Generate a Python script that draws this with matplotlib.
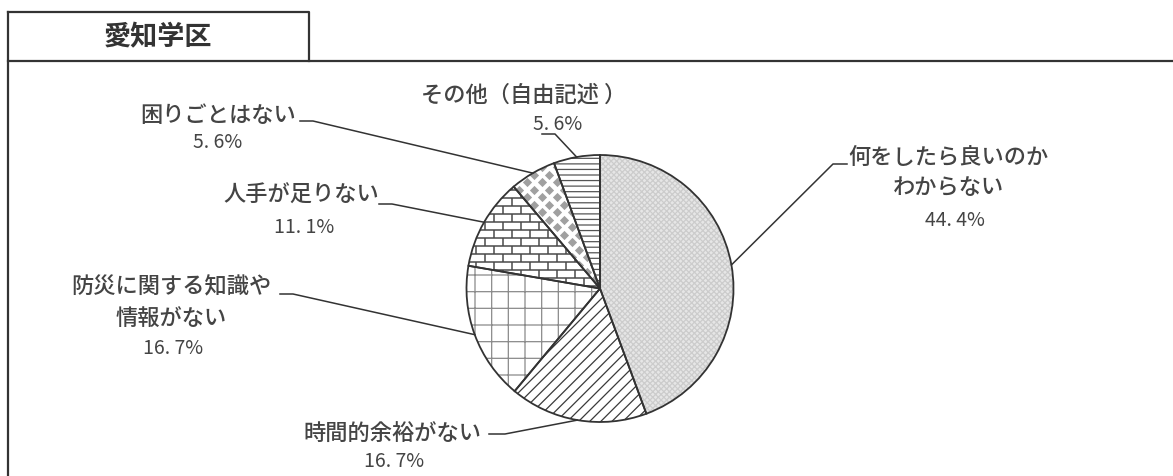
import numpy as np
import matplotlib.pyplot as plt
from matplotlib.collections import LineCollection

plt.rcParams['font.family'] = ['Noto Sans CJK JP', 'DejaVu Sans']
plt.rcParams['hatch.linewidth'] = 0.9

# data
title = '愛知学区'
labels = ['何をしたら良いのか\nわからない', '時間的余裕がない', '防災に関する知識や\n情報がない',
          '人手が足りない', '困りごとはない', 'その他（自由記述 ）']
values = [44.4, 16.7, 16.7, 11.1, 5.6, 5.6]

W, H = 1173, 477


def py(y):
    # pixel row (from top) -> data y
    return H - y


fig = plt.figure(figsize=(W / 100, H / 100), dpi=100)
ax = fig.add_axes([0, 0, 1, 1])

cx, cy, r = 600, py(289.5), 133.5

# filled wedges with textures
wedges, _ = ax.pie(values, startangle=90, counterclock=False, center=(cx, cy), radius=r,
                   wedgeprops=dict(linewidth=0))
fills = ['#e6e6e6', 'white', 'white', 'white', 'white', 'white']
hatches = ['xxxxxx', '///', '+', None, None, '---']
hcolors = ['#cccccc', '#3a3a3a', '#8a8a8a', 'white', 'white', '#555555']
for w, fc, h, hc in zip(wedges, fills, hatches, hcolors):
    w.set_facecolor(fc)
    w.set_edgecolor(hc)
    if hasattr(w, 'set_hatchcolor'):
        w.set_hatchcolor(hc)
    w.set_hatch(h)
    w.set_linewidth(0)

# brick texture
ys = np.arange(cy - r, cy + r, 8)
segs = [[(cx - r, y), (cx + r, y)] for y in ys]
for i, y in enumerate(ys):
    off = 0 if i % 2 == 0 else 9
    for x in np.arange(cx - r + off, cx + r, 18):
        segs.append([(x, y), (x, y + 8)])
lc = LineCollection(segs, colors='#4a4a4a', linewidths=1.1, zorder=2)
ax.add_collection(lc)
lc.set_clip_path(wedges[3])

# diamond dots texture
px, pyy = [], []
for j, y in enumerate(np.arange(cy - r, cy + r, 7.5)):
    off = 0 if j % 2 == 0 else 7.5
    for x in np.arange(cx - r + off, cx + r, 15):
        px.append(x)
        pyy.append(y)
sc = ax.scatter(px, pyy, marker='D', s=22, color='#a0a0a0', linewidths=0, zorder=2)
sc.set_clip_path(wedges[4])

# outlines
ax.pie(values, startangle=90, counterclock=False, center=(cx, cy), radius=r,
       wedgeprops=dict(fill=False, edgecolor='#333333', linewidth=1.3, zorder=3))

# labels
label_x = [948, 392, 171, 301, 218, 524]
label_y = [157, 433, 287, 195, 115, 95]
pct_xy = [(955, 220), (394, 462), (173, 348), (304, 228), (218, 142), (558, 125)]
lead_start = [(847, 165), (489, 435), (280, 295), (379, 205), (300, 122), (542, 135)]
lead_elbow = [(833, 165), (505, 435), (293, 295), (392, 205), (313, 122), (555, 135)]

for i, w in enumerate(wedges):
    for k, line in enumerate(labels[i].split('\n')):
        ax.text(label_x[i], py(label_y[i] + 31 * k), line, fontsize=16, color='#444444',
                fontweight='medium', ha='center', va='center')
    ax.text(pct_xy[i][0], py(pct_xy[i][1]), f'{values[i]:.1f}%'.replace('.', '. '),
            fontsize=14, color='#444444', ha='center', va='center')
    mid = np.deg2rad((w.theta1 + w.theta2) / 2)
    ex, ey = cx + r * np.cos(mid), cy + r * np.sin(mid)
    sx, sy = lead_start[i]
    bx, by = lead_elbow[i]
    ax.plot([sx, bx, ex], [py(sy), py(by), ey], color='#333333', lw=1.1, zorder=4)

# frame and title box
fc_ = '#333333'
ax.plot([8, 8], [py(13), py(H)], color=fc_, lw=1.6)
ax.plot([8, W], [py(62), py(62)], color=fc_, lw=1.6)
ax.plot([8, 309, 309], [py(13), py(13), py(62)], color=fc_, lw=1.6)
ax.text(158, py(37), title, fontsize=19.5, fontweight='bold', color='#333333',
        ha='center', va='center')

ax.set_xlim(0, W)
ax.set_ylim(0, H)
ax.set_aspect('equal')
ax.axis('off')

fig.savefig('out.png', dpi=100)
